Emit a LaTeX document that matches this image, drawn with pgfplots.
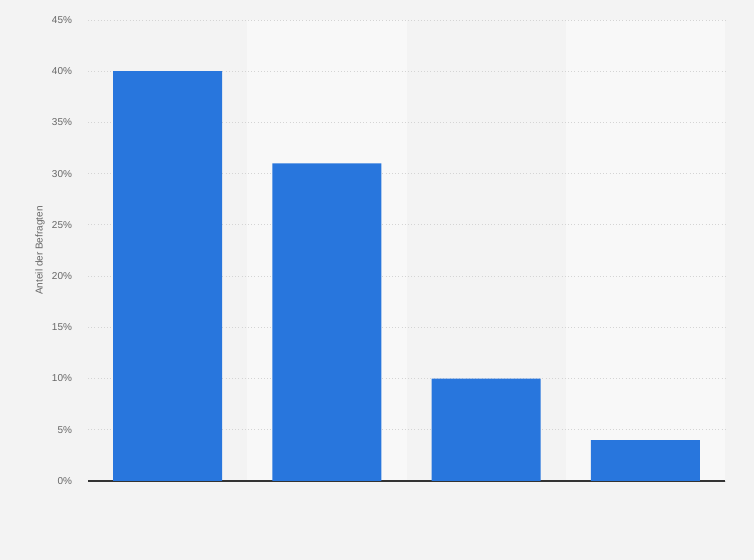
\documentclass[border=0pt]{standalone}
\usepackage{pgfplots}
\pgfplotsset{compat=1.18}
\usepackage{fontspec}
\setmainfont{Liberation Sans}
\definecolor{bg}{HTML}{F3F3F3}
\definecolor{band}{HTML}{F8F8F8}
\definecolor{barblue}{HTML}{2876DD}
\definecolor{ticktext}{HTML}{666666}
\definecolor{gridc}{HTML}{D4D4D4}
\begin{document}
\begin{tikzpicture}
% canvas: 754x560 px at 0.75pt per px
\begin{axis}[
    set layers,
    at={(66pt,59.25pt)},
    anchor=south west,
    scale only axis,
    width=477.75pt,
    height=345.75pt,
    xmin=-0.5, xmax=3.5,
    ymin=0, ymax=45,
    ytick={0,5,...,45},
    yticklabel={\pgfmathprintnumber{\tick}\%},
    xtick=\empty,
    axis x line*=bottom,
    axis y line*=left,
    x axis line style={draw=black!80, line width=0.8pt, -},
    y axis line style={draw=none},
    ymajorgrids=true,
    grid style={gridc, dotted, line width=0.6pt},
    major tick length=0pt,
    tick style={draw=none},
    yticklabel style={font=\fontsize{7.5}{9}\selectfont, text=ticktext, xshift=-8.5pt},
    /pgf/number format/assume math mode=true,
    ylabel={Anteil der Befragten},
    every axis y label/.style={at={(rel axis cs:0,0.5)}, rotate=90, anchor=center,
        yshift=36pt, font=\fontsize{7.5}{9}\selectfont, text=ticktext},
    clip=false,
]
\begin{pgfonlayer}{axis background}
\fill[bg] ([shift={(-66pt,-59.25pt)}]rel axis cs:0,0) rectangle ++(565.5pt,420pt);
\fill[band] (axis cs:0.5,0) rectangle (axis cs:1.5,45);
\fill[band] (axis cs:2.5,0) rectangle (axis cs:3.5,45);
\end{pgfonlayer}
\addplot[ybar, bar width=81.75pt, fill=barblue, draw=none] coordinates {
    (0,40) (1,31) (2,10) (3,4)
};
\end{axis}
\end{tikzpicture}
\end{document}
